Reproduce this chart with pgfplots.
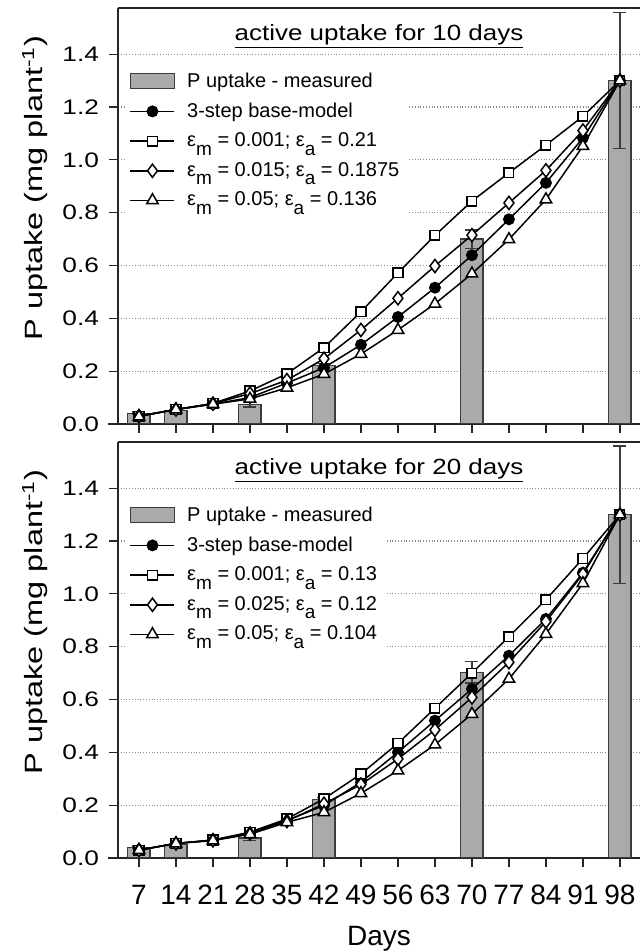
\documentclass[border=0pt]{standalone}
\usepackage{fontspec}
\setmainfont{Liberation Sans}
\newfontfamily\ytfont[FakeStretch=1.25]{Liberation Sans}
\newfontfamily\ttlfont[FakeStretch=1.18]{Liberation Sans}
\newfontfamily\ylfont[FakeStretch=1.3]{Liberation Sans}
\usepackage{pgfplots}
\pgfplotsset{compat=1.18}

\definecolor{barfill}{RGB}{170,170,170}
\definecolor{bardraw}{RGB}{60,60,60}
\definecolor{gridc}{RGB}{140,140,140}

% lowered subscript as in the original legend
\newcommand{\lo}[1]{\raisebox{-0.42em}{\fontsize{9.5}{10}\selectfont #1}}

\pgfplotsset{
  uptake/.style={
    scale only axis,
    width=261pt, height=208pt,
    xmin=3.03, xmax=101.8,
    ymin=0, ymax=1.575,
    axis y line*=left,
    xtick={7,14,21,28,35,42,49,56,63,70,77,84,91,98},
    ytick={0,0.2,0.4,0.6,0.8,1.0,1.2,1.4},
    xtick pos=bottom,
    tick align=outside,
    major tick length=4.5pt,
    axis line style={line width=0.6pt, black!85},
    tick style={line width=0.6pt, black!85},
    ymajorgrids=true,
    grid style={densely dotted, gridc, line width=0.6pt},
    /pgf/number format/assume math mode=true,
    yticklabel style={font=\ytfont\fontsize{10.5}{12}\selectfont, xshift=-1.5pt,
      /pgf/number format/.cd, fixed, fixed zerofill, precision=1},
    ylabel={P uptake (mg plant\textsuperscript{-1})},
    ylabel style={font=\ylfont\fontsize{12.5}{14}\selectfont,
      at={(-0.159,0.567)}, anchor=center},
    title style={font=\ttlfont\fontsize{11}{12}\selectfont,
      at={(0.5,0.923)}, anchor=base, yshift=-6pt},
    legend cell align=left,
    legend style={at={(0.014,0.865)}, anchor=north west, draw=none,
      fill=white, font=\fontsize{10}{11}\selectfont,
      row sep=2.3pt, column sep=4pt, inner sep=2pt},
    legend image code/.code={\draw[mark repeat=2,mark phase=2,#1]
      plot coordinates {(0pt,0pt) (11pt,0pt) (22pt,0pt)};},
  },
  barlegend/.style={legend image code/.code={
    \draw[fill=barfill, draw=bardraw, line width=0.6pt]
      (0pt,-3.75pt) rectangle (22pt,3.75pt);}},
  measured/.style={barlegend, ybar, bar width=4.2, fill=barfill, draw=bardraw,
    line width=0.6pt,
    error bars/.cd, y dir=both, y explicit,
    error bar style={line width=0.7pt, color=bardraw},
    error mark options={rotate=90, mark size=3.25pt, line width=0.7pt,
      color=bardraw},
    /pgfplots/.cd,
  },
  base/.style={black, line width=0.75pt, mark=*, mark size=2.6pt,
    mark options={solid, fill=black}},
  sq/.style={black, line width=0.75pt, mark=square*, mark size=2.4pt,
    mark options={solid, fill=white}},
  dia/.style={black, line width=0.75pt, mark=diamond*, mark size=3.3pt,
    mark options={solid, fill=white}},
  tri/.style={black, line width=0.75pt, mark=triangle*, mark size=3.3pt,
    mark options={solid, fill=white}},
}

\begin{document}
\begin{tikzpicture}

% ---- top: active uptake for 10 days ----
\begin{axis}[uptake, name=top,
    at={(0,217pt)}, anchor=south west,
    xticklabels={},
    title={\underline{active uptake for 10 days}},
]
\addplot[measured] coordinates {
    (7,0.04) +- (0,0.005) (14,0.05) +- (0,0.005) (28,0.075) +- (0,0.01)
    (42,0.22) +- (0,0.01) (70,0.70) +- (0,0.035) (98,1.30) +- (0,0.257)
};
\addlegendentry{P uptake - measured}

\addplot[base] coordinates {
    (7,0.03)(14,0.055)(21,0.075)(28,0.10)(35,0.155)(42,0.213)(49,0.30)
    (56,0.405)(63,0.516)(70,0.639)(77,0.775)(84,0.913)(91,1.083)(98,1.30)
};
\addlegendentry{3-step base-model}

\addplot[sq] coordinates {
    (7,0.03)(14,0.055)(21,0.078)(28,0.125)(35,0.19)(42,0.289)(49,0.425)
    (56,0.572)(63,0.714)(70,0.844)(77,0.951)(84,1.056)(91,1.165)(98,1.30)
};
\addlegendentry{ε\lo{m} = 0.001; ε\lo{a} = 0.21}

\addplot[dia] coordinates {
    (7,0.03)(14,0.055)(21,0.077)(28,0.115)(35,0.166)(42,0.247)(49,0.356)
    (56,0.476)(63,0.598)(70,0.715)(77,0.837)(84,0.96)(91,1.111)(98,1.30)
};
\addlegendentry{ε\lo{m} = 0.015; ε\lo{a} = 0.1875}

\addplot[tri] coordinates {
    (7,0.028)(14,0.055)(21,0.075)(28,0.095)(35,0.137)(42,0.189)(49,0.265)
    (56,0.356)(63,0.455)(70,0.569)(77,0.699)(84,0.85)(91,1.052)(98,1.30)
};
\addlegendentry{ε\lo{m} = 0.05; ε\lo{a} = 0.136}
\end{axis}

% ---- bottom: active uptake for 20 days ----
\begin{axis}[uptake, name=bot,
    at={(0,0)}, anchor=south west,
    xticklabel style={font=\fontsize{14}{16}\selectfont, yshift=-5.5pt},
    xlabel={Days},
    xlabel style={font=\fontsize{14}{16}\selectfont, at={(0.5,0)},
      anchor=base, yshift=-43.5pt},
    title={\underline{active uptake for 20 days}},
]
\addplot[measured] coordinates {
    (7,0.04) +- (0,0.005) (14,0.05) +- (0,0.005) (28,0.076) +- (0,0.01)
    (42,0.22) +- (0,0.01) (70,0.703) +- (0,0.04) (98,1.30) +- (0,0.26)
};
\addlegendentry{P uptake - measured}

\addplot[base] coordinates {
    (7,0.03)(14,0.055)(21,0.068)(28,0.095)(35,0.142)(42,0.199)(49,0.287)
    (56,0.40)(63,0.52)(70,0.64)(77,0.766)(84,0.905)(91,1.08)(98,1.30)
};
\addlegendentry{3-step base-model}

\addplot[sq] coordinates {
    (7,0.03)(14,0.055)(21,0.068)(28,0.098)(35,0.148)(42,0.224)(49,0.318)
    (56,0.434)(63,0.567)(70,0.70)(77,0.838)(84,0.978)(91,1.134)(98,1.30)
};
\addlegendentry{ε\lo{m} = 0.001; ε\lo{a} = 0.13}

\addplot[dia] coordinates {
    (7,0.03)(14,0.055)(21,0.067)(28,0.093)(35,0.14)(42,0.205)(49,0.278)
    (56,0.375)(63,0.485)(70,0.608)(77,0.741)(84,0.895)(91,1.075)(98,1.30)
};
\addlegendentry{ε\lo{m} = 0.025; ε\lo{a} = 0.12}

\addplot[tri] coordinates {
    (7,0.03)(14,0.055)(21,0.066)(28,0.09)(35,0.135)(42,0.173)(49,0.245)
    (56,0.331)(63,0.429)(70,0.545)(77,0.678)(84,0.848)(91,1.04)(98,1.30)
};
\addlegendentry{ε\lo{m} = 0.05; ε\lo{a} = 0.104}
\end{axis}

% x axis lines run a little past the y axis, as in the original
\draw[line width=0.6pt, black!85] (top.south west) -- ++(-5pt,0);
\draw[line width=0.6pt, black!85] (bot.south west) -- ++(-5pt,0);

\pgfresetboundingbox
\path (-59pt,-46.5pt) rectangle (261pt,429pt);
\end{tikzpicture}
\end{document}
